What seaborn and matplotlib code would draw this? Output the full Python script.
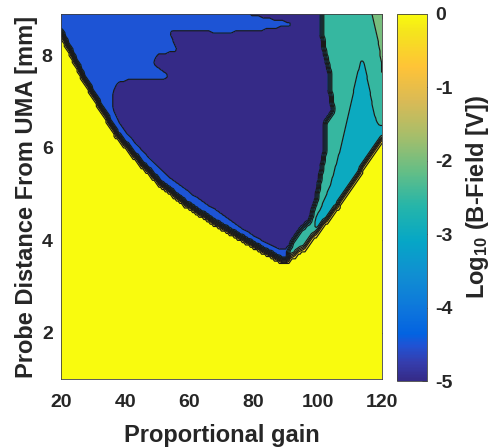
import numpy as np
import matplotlib
matplotlib.use("Agg")
import matplotlib.pyplot as plt
from matplotlib.path import Path
from matplotlib.colors import Normalize, LinearSegmentedColormap
from matplotlib.cm import ScalarMappable
import seaborn as sns

sns.set_theme(style="white")
plt.rcParams['font.family'] = ['Liberation Sans', 'DejaVu Sans']
plt.rcParams['font.weight'] = 'bold'
plt.rcParams['axes.unicode_minus'] = False
plt.rcParams['mathtext.fontset'] = 'custom'
plt.rcParams['mathtext.rm'] = 'Liberation Sans:bold'
plt.rcParams['mathtext.default'] = 'rm'

TXT = '#262626'

# sampling grid (proportional gain x probe distance)
gain = np.arange(20, 120.01, 0.5)
dist = np.round(np.arange(1.0, 8.93, 0.05), 3)

# log10 B-field level of each region
lvl_unstable = 0.0
lvl_edge = -4.3
lvl_core = -4.8
lvl_teal = -2.3
lvl_cyan = -2.8
lvl_corner = -1.8

# stability boundary (yellow below it)
stable_x = [19, 20, 22, 27, 32, 37.5, 44.5, 51, 59, 67.5, 76, 83, 89, 90.5, 95.5, 106, 120, 121, 121, 19]
stable_y = [8.67, 8.55, 8.25, 7.55, 6.95, 6.3, 5.72, 5.25, 4.8, 4.42, 4.07, 3.8, 3.57, 3.6, 3.85, 4.75, 6.25, 6.35, 9.5, 9.5]

# lowest-field core
core_x = [78.9, 78.9, 86, 94.4, 88, 82, 69.5, 61, 54, 56.4, 49.9, 48.7, 54, 51.8, 40.5, 37.4, 36.2, 36.2,
          38.4, 42.4, 47.7, 53, 61, 68.6, 75.8, 82, 86, 88.3, 91, 110, 110]
core_y = [9.5, 8.9, 8.8, 8.69, 8.6, 8.54, 8.48, 8.54, 8.5, 8.1, 8.0, 7.83, 7.57, 7.46, 7.46, 7.39, 7.18, 6.85,
          6.52, 6.18, 5.78, 5.42, 5.0, 4.65, 4.3, 4.03, 3.9, 3.82, 3.82, 3.82, 9.5]

# right-hand band
teal_x = [90.7, 90.7, 92, 94.5, 97.6, 99.7, 100.7, 102.2, 102.2, 104.7, 103.8, 103.8, 101.6, 101.3, 100.5, 125, 125]
teal_y = [3.0, 3.8, 3.96, 4.22, 4.44, 4.94, 5.37, 5.95, 6.53, 6.81, 7.31, 7.61, 8.26, 8.6, 9.5, 9.5, 3.0]

cyan_x = [99, 99.5, 100.7, 103.8, 106.9, 110, 112.2, 113.8, 115.3, 117.2, 118.8, 125, 125]
cyan_y = [3.0, 4.5, 4.65, 5.15, 5.9, 6.83, 7.52, 7.98, 7.52, 6.81, 6.45, 6.5, 3.0]

corner_x = [116.9, 116.9, 118.5, 119.4, 120, 121, 121]
corner_y = [9.5, 8.84, 8.4, 8.0, 7.6, 7.0, 9.5]

GX, GY = np.meshgrid(gain, dist)
pts = np.column_stack([GX.ravel(), GY.ravel()])


def inside(xs, ys):
    return Path(np.column_stack([xs, ys])).contains_points(pts).reshape(GX.shape)


def box_smooth(a, k=1):
    p = np.pad(a, k, mode='edge')
    out = np.zeros_like(a)
    for i in range(2 * k + 1):
        for j in range(2 * k + 1):
            out += p[i:i + a.shape[0], j:j + a.shape[1]]
    return out / (2 * k + 1) ** 2


Z = np.full(GX.shape, lvl_unstable)
stable = inside(stable_x, stable_y)
Z[stable] = lvl_edge
Z[stable & inside(core_x, core_y)] = lvl_core
Z[stable & inside(teal_x, teal_y)] = lvl_teal
Z[stable & inside(cyan_x, cyan_y)] = lvl_cyan
Z[stable & inside(corner_x, corner_y)] = lvl_corner
Z = box_smooth(Z, 1)

# parula anchors (index out of 63)
parula_idx = [0, 3, 6, 8, 12, 18, 24, 30, 36, 42, 48, 54, 60, 63]
parula_rgb = [(0.2081, 0.1663, 0.5292), (0.2081, 0.2386, 0.6771), (0.1253, 0.3242, 0.8303),
              (0.0117, 0.3875, 0.8820), (0.0498, 0.4586, 0.8641), (0.0641, 0.5570, 0.8240),
              (0.0228, 0.6535, 0.7768), (0.1453, 0.7098, 0.6646), (0.3953, 0.7459, 0.5244),
              (0.6473, 0.7456, 0.4188), (0.8507, 0.7299, 0.3360), (0.9990, 0.7653, 0.2164),
              (0.9589, 0.8949, 0.1132), (0.9763, 0.9831, 0.0538)]
cmap = LinearSegmentedColormap.from_list(
    'parula', [(i / 63, c) for i, c in zip(parula_idx, parula_rgb)], N=256)
norm = Normalize(-5, 0)

lev = np.linspace(-5, 0, 11)
edges = np.append(lev - 0.01, 1.0)
fill_colors = [cmap(norm(v)) for v in lev]

fig = plt.figure(figsize=(4.98, 4.47), dpi=100)
ax = fig.add_axes([61 / 498, 68 / 447, 321 / 498, 365 / 447])
ax.contourf(GX, GY, Z, levels=edges, colors=fill_colors)
ax.contour(GX, GY, Z, levels=lev[1:] - 0.01, colors='k', linewidths=0.85, linestyles='solid')

ax.set_xlim(20, 120)
ax.set_ylim(1, 8.9)
ax.set_xticks([20, 40, 60, 80, 100, 120])
ax.set_yticks([2, 4, 6, 8])
ax.tick_params(direction='in', top=True, right=True, length=3.5, width=0.6,
               color='#404040', labelsize=14, labelcolor=TXT)
ax.tick_params(axis='x', pad=11)
ax.tick_params(axis='y', pad=6)
for s in ax.spines.values():
    s.set_color('#404040')
    s.set_linewidth(0.6)
ax.set_xlabel('Proportional gain', fontsize=17, fontweight='bold', color=TXT, labelpad=9)
ax.set_ylabel('Probe Distance From UMA [mm]', fontsize=17, fontweight='bold', color=TXT, labelpad=3)

cax = fig.add_axes([397 / 498, 66 / 447, 30 / 498, 367 / 447])
cb = fig.colorbar(ScalarMappable(norm=norm, cmap=cmap), cax=cax, ticks=[0, -1, -2, -3, -4, -5])
cb.outline.set_edgecolor('#404040')
cb.outline.set_linewidth(0.6)
cax.tick_params(direction='in', length=3.5, width=0.6, color='#404040', labelsize=14,
                labelcolor=TXT, pad=6)
cb.set_label('Log$_{10}$ (B-Field [V])', fontsize=17, fontweight='bold', color=TXT, labelpad=8)

fig.savefig('out.png', dpi=100)
